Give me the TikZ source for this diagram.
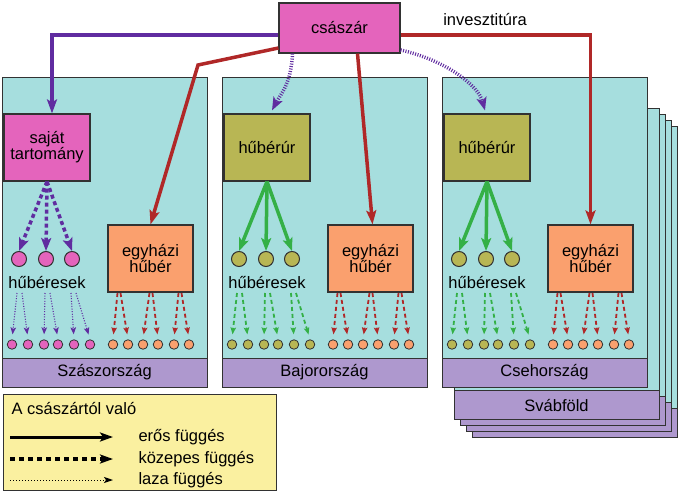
\documentclass[tikz,border=0pt]{standalone}
\usepackage{fontspec}
\setmainfont{Liberation Sans}
\usetikzlibrary{arrows.meta,calc}
\definecolor{panelc}{RGB}{166,222,222}
\definecolor{bandc}{RGB}{174,152,206}
\definecolor{kaiserc}{RGB}{228,100,188}
\definecolor{olivec}{RGB}{184,182,84}
\definecolor{orangec}{RGB}{250,160,110}
\definecolor{purpc}{RGB}{96,44,160}
\definecolor{redc}{RGB}{176,40,40}
\definecolor{greenc}{RGB}{52,176,70}
\definecolor{legc}{RGB}{250,240,160}
\definecolor{edgec}{RGB}{50,50,50}
\tikzset{
  panel/.style={fill=panelc, draw=edgec, line width=0.8pt},
  band/.style={fill=bandc, draw=edgec, line width=0.8pt},
  box/.style={draw=edgec, line width=1.2pt, minimum width=86pt, minimum height=67pt, inner sep=0pt, align=center},
  midc/.style={circle, draw=edgec, line width=1pt, minimum size=15pt, inner sep=0pt},
  smc/.style={circle, draw=edgec, line width=0.8pt, minimum size=9.5pt, inner sep=0pt},
  bigarr/.style={line width=3.5pt, line join=miter, -{Stealth[length=14pt,width=10pt,inset=3pt]}},
  purpdash/.style={purpc, line width=3.5pt, dash pattern=on 4pt off 3pt, -{Stealth[length=13pt,width=10pt,inset=3pt]}},
  greensolid/.style={greenc, line width=3.5pt, -{Stealth[length=13pt,width=10pt,inset=3pt]}},
  kdot/.style={purpc, line width=3.5pt, dash pattern=on 1pt off 1.5pt, -{Stealth[length=13pt,width=10pt,inset=3pt]}},
  purpdot/.style={purpc, line width=1.1pt, dash pattern=on 1pt off 1.6pt, shorten >=5pt, -{Stealth[length=7pt,width=5.5pt,inset=1.5pt]}},
  greendash/.style={greenc, line width=1.8pt, dash pattern=on 4pt off 3pt, shorten >=5pt, -{Stealth[length=7pt,width=5.5pt,inset=1.5pt]}},
  reddash/.style={redc, line width=1.8pt, dash pattern=on 4pt off 3pt, shorten >=5pt, -{Stealth[length=7pt,width=5.5pt,inset=1.5pt]}},
}
\begin{document}
\begin{tikzpicture}[x=1pt,y=-1pt, font=\fontsize{16.5}{16}\selectfont]
\useasboundingbox (0,0) rectangle (680,498);
% stacked panels behind Csehorszag
\foreach \k in {3,2,1,0}{
  \draw[panel] (454+6*\k,108+6*\k) rectangle (659+6*\k,419+6*\k);
  \draw[band] (454+6*\k,390+6*\k) rectangle (659+6*\k,419+6*\k);
}
\node (svab) at (556.5,405) {Svábföld};
% panels
\foreach \px/\i/\fc/\txt/\btxt/\astyle/\sstyle in {
  2/1/kaiserc/{saját\\tartomány}/Szászország/purpdash/purpdot,
  222/2/olivec/{hűbérúr}/Bajorország/greensolid/greendash,
  442/3/olivec/{hűbérúr}/Csehország/greensolid/greendash}{
  \draw[panel] (\px,77) rectangle (\px+205,387);
  \draw[band] (\px,358) rectangle (\px+205,387);
  \node (b\i) at (\px+102.5,372.5) {\btxt};
  \node[box, fill=\fc] (t\i) at (\px+45,147.5) {\txt};
  \node[box, fill=orangec, minimum width=85pt] (e\i) at (\px+148.5,258.5) {egyházi\\hűbér};
  \node (h\i) at (\px+45,283) {hűbéresek};
  \foreach \c/\j in {17/1,44/2,70/3}{
    \node[midc, fill=\fc] (m-\i-\j) at (\px+\c,259) {};
    \draw[\astyle] (t\i.south) -- (m-\i-\j.north);
  }
  \foreach \c/\j in {10/1,26/2,42/3,56/4,72/5,88/6}
    \node[smc, fill=\fc] (s-\i-\j) at (\px+\c,344.5) {};
  \foreach \c/\j in {111/1,126/2,141/3,156/4,172/5,187/6}
    \node[smc, fill=orangec] (o-\i-\j) at (\px+\c,344.5) {};
  % small arrows from vassals
  \foreach \c/\j/\l/\r in {17/1/1/2,45/2/3/4,71/3/5/6}{
    \coordinate (pl-\i-\j) at (\px+\c-2,293);
    \coordinate (pr-\i-\j) at (\px+\c+3,293);
    \draw[\sstyle] (pl-\i-\j) -- (s-\i-\l.north);
    \draw[\sstyle] (pr-\i-\j) -- (s-\i-\r.north);
  }
  % small arrows from church fiefs
  \foreach \c/\j/\l/\r in {117/1/1/2,149/2/3/4,178/3/5/6}{
    \coordinate (ql-\i-\j) at (\px+\c-1.5,293);
    \coordinate (qr-\i-\j) at (\px+\c+1.5,293);
    \draw[reddash] (ql-\i-\j) -- (o-\i-\l.north);
    \draw[reddash] (qr-\i-\j) -- (o-\i-\r.north);
  }
}
% emperor
\node[box, fill=kaiserc, minimum width=121pt, minimum height=50pt] (k) at (339.5,28) {császár};
\node (inv) at (485,20) {invesztitúra};
\coordinate (bend) at (198,65);
\draw[bigarr, purpc] ($(k.west)+(0,7)$) -| ($(t1.north)+(5,0)$);
\draw[bigarr, redc] ($(k.west)+(0,20)$) -- (bend) -- (e1.north);
\draw[bigarr, redc] ($(k.south)+(18,0)$) -- ($(e2.north)+(2,0)$);
\draw[bigarr, redc] ($(k.east)+(0,7)$) -| (e3.north);
\draw[kdot] ($(k.south)+(-47,0)$) .. controls (291,85) and (280,95) .. ($(t2.north)+(5,-3)$);
\draw[kdot] ($(k.east)+(0,22)$) .. controls (445,60) and (478,85) .. ($(t3.north)+(-2,-3)$);
% legend
\node[draw=edgec, line width=0.8pt, fill=legc, minimum width=273pt, minimum height=96pt, inner sep=0pt, anchor=north west] (leg) at (3,394) {};
\node[anchor=west] (legt) at (8,408) {A császártól való};
\coordinate (la) at (10,437); \coordinate (lb) at (113,437);
\coordinate (lc) at (10,459); \coordinate (ld) at (113,459);
\coordinate (le) at (10,480); \coordinate (lf) at (113,480);
\draw[line width=3pt, -{Stealth[length=13pt,width=9pt,inset=3pt]}] (la) -- (lb);
\draw[line width=4pt, dash pattern=on 5pt off 4pt, -{Stealth[length=13pt,width=9pt,inset=3pt]}] (lc) -- (ld);
\draw[line width=1pt, dotted, -{Stealth[length=9pt,width=6pt,inset=2pt]}] (le) -- (lf);
\node[anchor=west] (l1) at (135,437) {erős függés};
\node[anchor=west] (l2) at (135,459) {közepes függés};
\node[anchor=west] (l3) at (135,480) {laza függés};
\end{tikzpicture}
\end{document}
